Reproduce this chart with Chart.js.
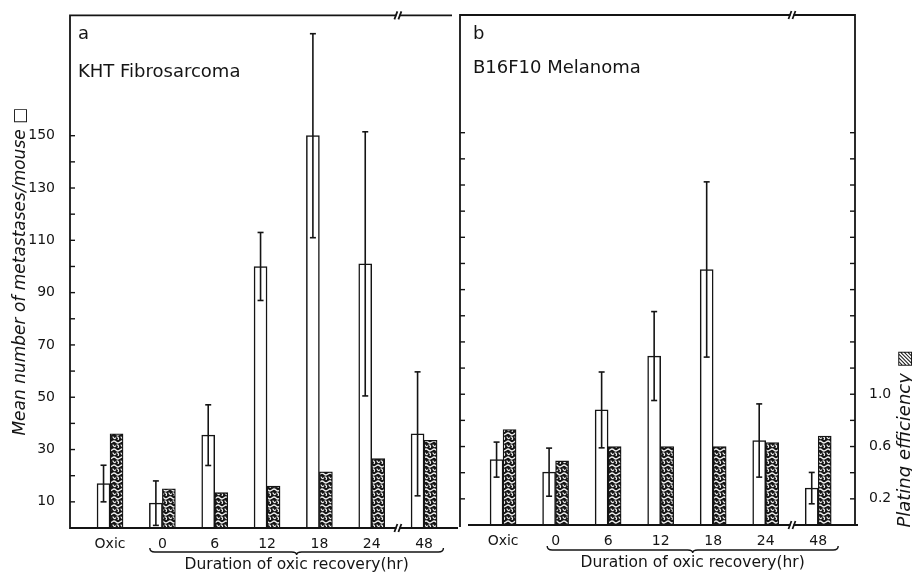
<!DOCTYPE html>
<html><head><meta charset="utf-8">
<script src="https://cdn.jsdelivr.net/npm/chart.js@4/dist/chart.umd.min.js"></script>
<style>
html,body{margin:0;padding:0;background:#fff;}
#wrap{position:relative;width:912px;height:572px;overflow:hidden;}
.box{position:absolute;top:0;}
canvas{display:block;}
</style></head><body>
<div id="wrap">
  <div class="box" style="left:0;width:458px;height:572px"><canvas id="ca" width="458" height="572"></canvas></div>
  <div class="box" style="left:458px;width:454px;height:572px"><canvas id="cb" width="454" height="572"></canvas></div>
</div>
<script>
// ---------- data ----------
const categories = ['Oxic', '0', '6', '12', '18', '24', '48'];
const khtMetastases = [17, 9.5, 35.5, 100, 150, 101, 36];
const khtMetError   = [7, 8.5, 11.6, 13, 39, 50.5, 23.7];
const khtPlating    = [0.72, 0.30, 0.27, 0.32, 0.43, 0.53, 0.67];
const b16Metastases = [25, 20.2, 44, 64.6, 97.7, 32.3, 14.1];
const b16MetError   = [6.7, 9.2, 14.5, 17, 33.5, 14, 6];
const b16Plating    = [0.73, 0.49, 0.60, 0.60, 0.60, 0.63, 0.68];
const metTicks      = [10, 20, 30, 40, 50, 60, 70, 80, 90, 100, 110, 120, 130, 140, 150];
const metTickLabels = [10, 30, 50, 70, 90, 110, 130, 150];
const platingTicks  = [0.2, 0.4, 0.6, 0.8, 1.0, 1.2, 1.4, 1.6, 1.8, 2.0, 2.2, 2.4, 2.6, 2.8, 3.0];
const platingTickLabels = [0.2, 0.6, 1.0];

const INK = '#141414';
const FONT = "'DejaVu Sans', sans-serif";
Chart.defaults.font.family = FONT;
Chart.defaults.color = INK;

function hatchPattern() {
  const c = document.createElement('canvas');
  c.width = 8; c.height = 8;
  const g = c.getContext('2d');
  g.fillStyle = '#161616'; g.fillRect(0, 0, 8, 8);
  g.strokeStyle = '#f2f2f2'; g.lineWidth = 1.2; g.lineCap = 'round';
  g.beginPath();
  g.moveTo(0, 2); g.quadraticCurveTo(2, 0, 4, 2); g.quadraticCurveTo(6, 4, 8, 2);
  g.moveTo(1, 5); g.quadraticCurveTo(2.5, 7.5, 3.5, 6);
  g.moveTo(5, 4.8); g.quadraticCurveTo(7.5, 5.5, 6, 8);
  g.stroke();
  return g.createPattern(c, 'repeat');
}

function line(ctx, x1, y1, x2, y2) {
  ctx.beginPath(); ctx.moveTo(x1, y1); ctx.lineTo(x2, y2); ctx.stroke();
}

function panelPlugin(cfg) {
  return {
    id: 'panel' + cfg.key,
    afterDatasetsDraw(chart) {
      const { ctx, chartArea: ca, scales } = chart;
      const x = scales.x, y = scales.y, y2 = scales.y2;
      ctx.save();
      ctx.strokeStyle = INK; ctx.fillStyle = INK; ctx.lineWidth = 1.6;
      // error bars on the open bars
      const meta = chart.getDatasetMeta(0);
      cfg.values.forEach((v, i) => {
        const bx = meta.data[i].x;
        const yt = y.getPixelForValue(v + cfg.errors[i]);
        const yb = y.getPixelForValue(Math.max(0, v - cfg.errors[i]));
        line(ctx, bx, yt, bx, yb);
        line(ctx, bx - 3, yt, bx + 3, yt);
        line(ctx, bx - 3, yb, bx + 3, yb);
      });
      ctx.lineWidth = 1.8;
      // frame
      if (cfg.key === 'a') {
        ctx.beginPath();
        ctx.moveTo(ca.left, ca.bottom + 1); ctx.lineTo(ca.left, ca.top); ctx.lineTo(ca.right - 4, ca.top);
        ctx.stroke();
        line(ctx, ca.left, ca.bottom, chart.width, ca.bottom);
      } else {
        ctx.beginPath();
        ctx.moveTo(ca.left, ca.bottom + 2); ctx.lineTo(ca.left, ca.top); ctx.lineTo(ca.right, ca.top); ctx.lineTo(ca.right, ca.bottom);
        ctx.stroke();
        line(ctx, ca.left + 8, ca.bottom, ca.right + 3, ca.bottom);
      }
      ctx.lineWidth = 1.4;
      // inward ticks
      metTicks.forEach(v => { const py = y.getPixelForValue(v); line(ctx, ca.left, py, ca.left + 5, py); });
      if (cfg.key === 'b') {
        platingTicks.forEach(v => { const py = y2.getPixelForValue(v); line(ctx, ca.right - 5, py, ca.right, py); });
      }
      // axis breaks
      const xb = x.getPixelForValue(5.5);
      [ca.top, ca.bottom].forEach(yy => {
        ctx.fillStyle = '#fff'; ctx.fillRect(xb - 1.5, yy - 2, 3, 4);
        ctx.lineWidth = 1.8;
        line(ctx, xb - 3.5, yy + 4, xb - 0.5, yy - 4);
        line(ctx, xb + 0.5, yy + 4, xb + 3.5, yy - 4);
      });
      // brace under the recovery times
      const x1 = x.getPixelForValue(cfg.braceFrom), x2 = x.getPixelForValue(cfg.braceTo);
      const xm = (x1 + x2) / 2, yb = cfg.braceY;
      ctx.lineWidth = 1.4;
      ctx.beginPath();
      ctx.moveTo(x1, yb - 4); ctx.quadraticCurveTo(x1, yb, x1 + 5, yb);
      ctx.lineTo(xm - 5, yb); ctx.quadraticCurveTo(xm, yb, xm, yb + 3);
      ctx.quadraticCurveTo(xm, yb, xm + 5, yb);
      ctx.lineTo(x2 - 5, yb); ctx.quadraticCurveTo(x2, yb, x2, yb - 4);
      ctx.stroke();
      // texts
      ctx.fillStyle = INK;
      ctx.textBaseline = 'middle';
      ctx.textAlign = 'center';
      ctx.font = '15.5px ' + FONT;
      ctx.fillText('Duration of oxic recovery(hr)', xm, cfg.durY);
      ctx.textAlign = 'left';
      ctx.font = '18px ' + FONT;
      ctx.fillText(cfg.letter, ca.left + cfg.textInset, 34);
      ctx.fillText(cfg.name, ca.left + cfg.textInset, cfg.nameY);
      if (cfg.key === 'b') {
        ctx.save();
        ctx.translate(chart.width - 7, 439);
        ctx.rotate(-Math.PI / 2);
        ctx.textAlign = 'center';
        ctx.font = 'italic 18px ' + FONT;
        ctx.fillText('Plating efficiency \u25A8', 0, 0);
        ctx.restore();
      }
      ctx.restore();
    }
  };
}

function makeChart(id, cfg) {
  const pattern = hatchPattern();
  const xs = categories.map((_, i) => i);
  const isA = cfg.key === 'a';
  return new Chart(document.getElementById(id), {
    type: 'bar',
    data: {
      datasets: [
        { label: 'Mean number of metastases/mouse', data: xs.map(i => ({ x: i, y: cfg.values[i] })),
          yAxisID: 'y', backgroundColor: '#fff', borderColor: INK, borderWidth: 1.5, barThickness: 13 },
        { label: 'Plating efficiency', data: xs.map(i => ({ x: i, y: cfg.plating[i] })),
          yAxisID: 'y2', backgroundColor: pattern, borderColor: INK, borderWidth: 1.3, barThickness: 13 }
      ]
    },
    options: {
      responsive: false, animation: false, devicePixelRatio: 1,
      layout: { padding: { left: isA ? 0 : 2, right: isA ? 2 : 0, top: 15, bottom: 0 } },
      plugins: { legend: { display: false }, tooltip: { enabled: false } },
      scales: {
        x: {
          type: 'linear', offset: false, min: cfg.xMin, max: cfg.xMax,
          grid: { display: false }, border: { display: false },
          afterBuildTicks: s => { s.ticks = xs.map(v => ({ value: v })); },
          afterFit: s => { s.height = cfg.xHeight; },
          ticks: { autoSkip: false, maxRotation: 0, padding: 0, font: { size: 14 },
                   callback: v => categories[v] ?? '' }
        },
        y: {
          display: isA, min: 0, max: cfg.yMax, position: 'left',
          grid: { display: false }, border: { display: false },
          afterBuildTicks: s => { s.ticks = metTicks.map(v => ({ value: v })); },
          afterFit: s => { s.width = isA ? 70 : 0; },
          ticks: { autoSkip: false, padding: 7, font: { size: 14 },
                   callback: v => metTickLabels.includes(v) ? String(v) : '' },
          title: { display: true, text: 'Mean number of metastases/mouse \u25A1',
                   font: { size: 17, style: 'italic' }, padding: { top: 10, bottom: 0 } }
        },
        y2: {
          display: !isA, min: 0, max: cfg.yMax / 50, position: 'right',
          grid: { display: false }, border: { display: false },
          afterBuildTicks: s => { s.ticks = platingTicks.map(v => ({ value: v })); },
          afterFit: s => { s.width = isA ? 0 : 57; },
          ticks: { autoSkip: false, padding: 6, font: { size: 14 },
                   callback: v => platingTickLabels.some(p => Math.abs(p - v) < 1e-6) ? v.toFixed(1) : '' }
        }
      }
    },
    plugins: [panelPlugin(cfg)]
  });
}

makeChart('ca', {
  key: 'a', letter: 'a', name: 'KHT Fibrosarcoma', nameY: 72, textInset: 8,
  values: khtMetastases, errors: khtMetError, plating: khtPlating,
  xMin: -0.765, xMax: 6.61, yMax: 196, xHeight: 44,
  braceFrom: 0.76, braceTo: 6.37, braceY: 552, durY: 565
});
makeChart('cb', {
  key: 'b', letter: 'b', name: 'B16F10 Melanoma', nameY: 68, textInset: 13,
  values: b16Metastases, errors: b16MetError, plating: b16Plating,
  xMin: -0.82, xMax: 6.70, yMax: 195, xHeight: 47,
  braceFrom: 0.84, braceTo: 6.38, braceY: 550, durY: 563
});
</script>
</body></html>
